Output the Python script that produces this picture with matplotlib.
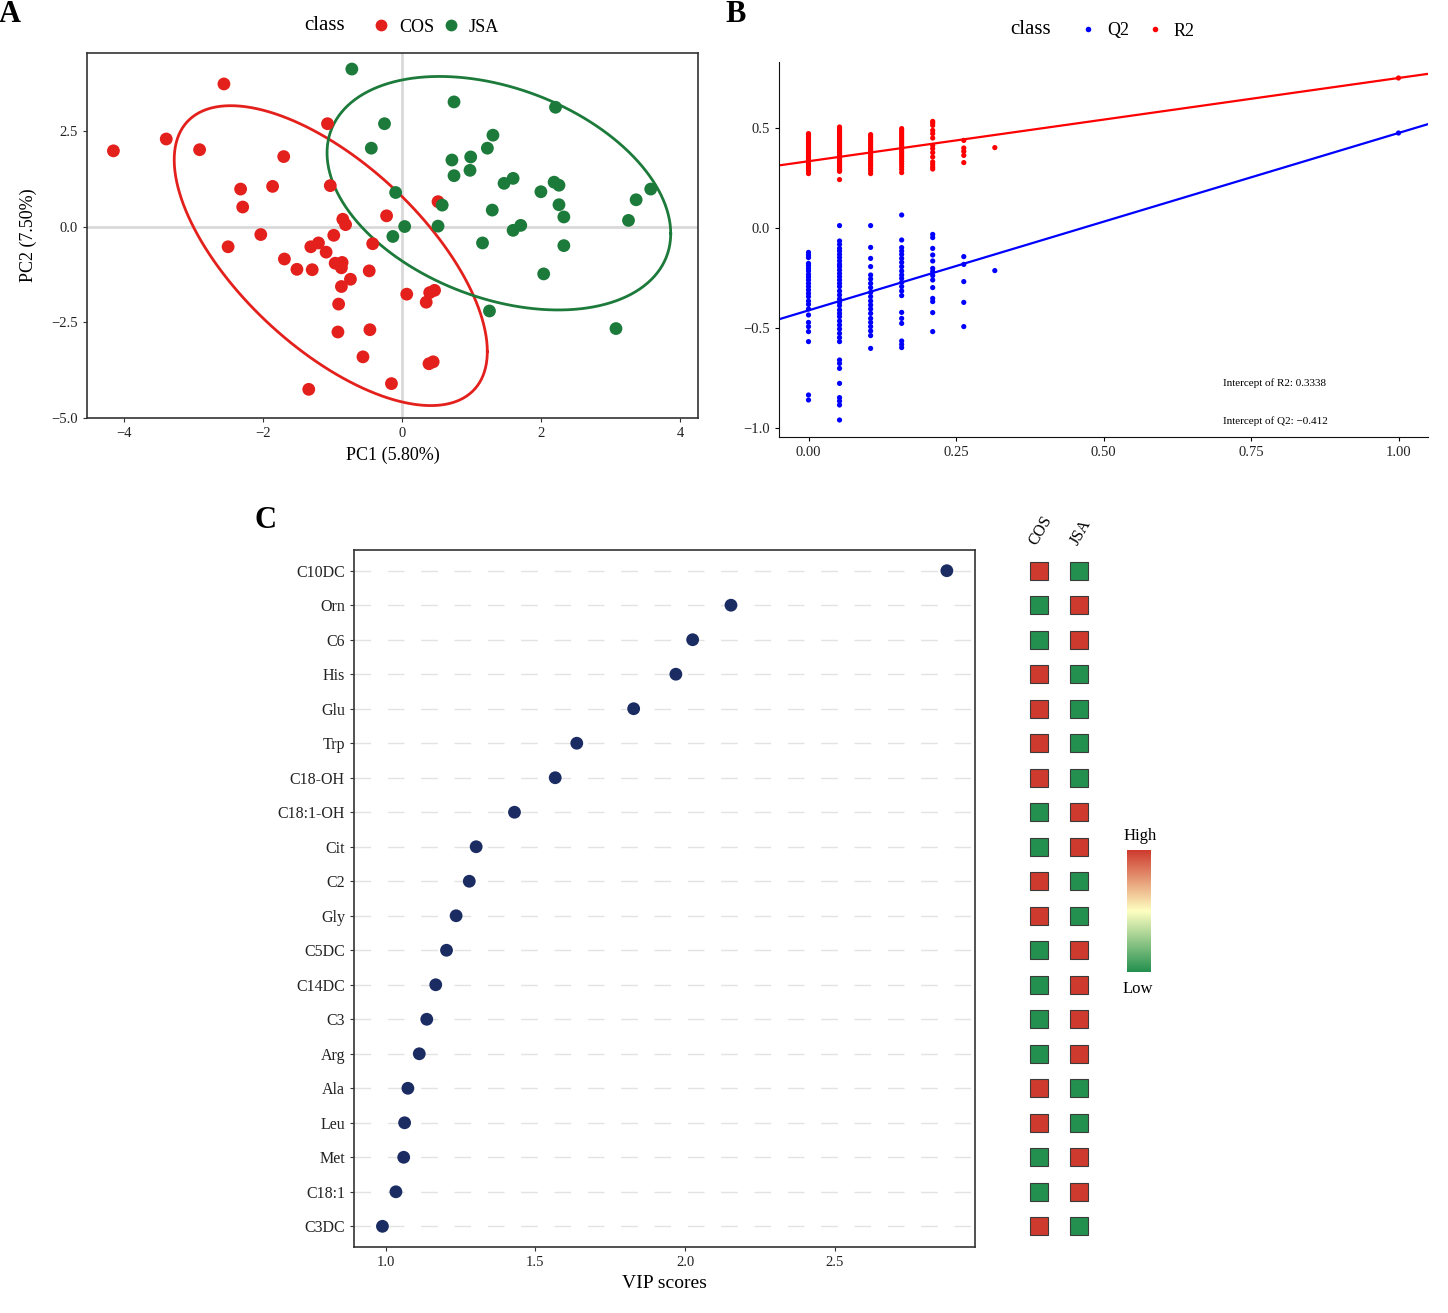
import numpy as np
import matplotlib
matplotlib.use("Agg")
import matplotlib.pyplot as plt
from matplotlib.lines import Line2D
from matplotlib.colors import LinearSegmentedColormap

plt.rcParams['font.family'] = ['Liberation Serif', 'DejaVu Serif']

# ---------------- Panel A data (PCA scores) ----------------
cos_pc1 = [-4.15, -3.39, -2.91, -2.56, -2.32, -2.29, -2.50, -2.03, -1.86, -1.70,
           -1.07, -1.03, -1.69, -1.51, -1.29, -1.31, -1.20, -1.09, -0.98, -0.85,
           -0.81, -0.96, -0.86, -0.87, -0.74, -0.87, -0.91, -0.92, -0.47, -0.42,
           -0.22, -0.46, -0.56, -1.34, -0.15, 0.07, 0.52, 0.35, 0.40, 0.47,
           0.39, 0.45]
cos_pc2 = [1.99, 2.30, 2.02, 3.74, 0.99, 0.52, -0.52, -0.20, 1.06, 1.84,
           2.70, 1.08, -0.84, -1.11, -1.12, -0.52, -0.42, -0.66, -0.22, 0.20,
           0.06, -0.95, -0.93, -1.07, -1.37, -1.56, -2.02, -2.75, -1.15, -0.44,
           0.29, -2.69, -3.40, -4.25, -4.10, -1.76, 0.66, -1.97, -1.72, -1.66,
           -3.58, -3.53]
jsa_pc1 = [-0.72, 0.75, 2.21, -0.25, -0.44, 1.31, 1.23, 0.72, 0.99, 0.75,
           0.98, 1.47, 1.60, 2.00, 2.19, 2.26, 3.58, 3.37, 2.26, 2.33,
           3.26, 0.58, 1.30, -0.09, 0.04, -0.13, 0.52, 1.60, 1.71, 1.16,
           2.33, 2.04, 1.26, 3.08]
jsa_pc2 = [4.13, 3.27, 3.13, 2.70, 2.06, 2.40, 2.06, 1.75, 1.83, 1.34,
           1.48, 1.14, 1.27, 0.92, 1.17, 1.09, 0.99, 0.71, 0.58, 0.26,
           0.17, 0.57, 0.44, 0.90, 0.01, -0.25, 0.02, -0.09, 0.04, -0.42,
           -0.49, -1.23, -2.20, -2.66]
# F quantiles qf(0.95, 2, n-1) used by stat_ellipse
f_cos = 3.226
f_jsa = 3.285

# ---------------- Panel B data (permutation test) ----------------
perm_sim = [0.0, 0.0526, 0.1053, 0.1579, 0.2105, 0.2632, 0.3158]
r2_perm = [
    [0.472, 0.466, 0.458, 0.450, 0.441, 0.435, 0.426, 0.418, 0.411, 0.402, 0.395, 0.386, 0.378,
     0.371, 0.362, 0.355, 0.347, 0.338, 0.331, 0.322, 0.314, 0.305, 0.296, 0.285, 0.272],
    [0.505, 0.498, 0.490, 0.483, 0.477, 0.470, 0.463, 0.457, 0.451, 0.444, 0.438, 0.431, 0.425,
     0.419, 0.412, 0.406, 0.400, 0.394, 0.388, 0.381, 0.375, 0.369, 0.362, 0.356, 0.350, 0.344,
     0.338, 0.331, 0.325, 0.319, 0.313, 0.307, 0.301, 0.296, 0.291, 0.287, 0.283, 0.242],
    [0.467, 0.458, 0.448, 0.438, 0.428, 0.418, 0.408, 0.398, 0.389, 0.379, 0.369, 0.359, 0.349,
     0.339, 0.329, 0.319, 0.309, 0.297, 0.285, 0.272],
    [0.497, 0.487, 0.477, 0.466, 0.456, 0.446, 0.436, 0.425, 0.415, 0.405, 0.394, 0.384, 0.374,
     0.363, 0.353, 0.342, 0.332, 0.320, 0.307, 0.293, 0.277],
    [0.533, 0.525, 0.513, 0.488, 0.472, 0.450, 0.413, 0.397, 0.377, 0.355, 0.330, 0.318, 0.305, 0.295],
    [0.438, 0.400, 0.383, 0.363, 0.327],
    [0.402],
]
q2_perm = [
    [-0.122, -0.135, -0.148, -0.177, -0.188, -0.202, -0.215, -0.232, -0.245, -0.260, -0.277,
     -0.293, -0.310, -0.327, -0.343, -0.365, -0.382, -0.405, -0.435, -0.472, -0.493, -0.518,
     -0.568, -0.835, -0.860],
    [0.012, -0.065, -0.082, -0.102, -0.115, -0.132, -0.148, -0.165, -0.182, -0.193, -0.210,
     -0.227, -0.243, -0.260, -0.277, -0.293, -0.315, -0.335, -0.355, -0.372, -0.388, -0.410,
     -0.427, -0.443, -0.465, -0.485, -0.505, -0.527, -0.548, -0.568, -0.660, -0.677, -0.702,
     -0.777, -0.848, -0.865, -0.885, -0.960],
    [0.012, -0.097, -0.152, -0.193, -0.235, -0.255, -0.277, -0.298, -0.322, -0.343, -0.365,
     -0.385, -0.405, -0.427, -0.452, -0.472, -0.493, -0.515, -0.538, -0.602],
    [0.065, -0.060, -0.098, -0.115, -0.132, -0.152, -0.172, -0.193, -0.215, -0.235, -0.252,
     -0.272, -0.293, -0.315, -0.338, -0.422, -0.452, -0.477, -0.565, -0.582, -0.598],
    [-0.032, -0.048, -0.102, -0.135, -0.165, -0.202, -0.218, -0.238, -0.260, -0.298, -0.352,
     -0.368, -0.423, -0.518],
    [-0.143, -0.182, -0.268, -0.372, -0.493],
    [-0.213],
]
orig_sim = 1.0
r2_orig = 0.750
q2_orig = 0.475
r2_intercept = 0.3338
q2_intercept = -0.412

# ---------------- Panel C data (VIP) ----------------
vip_names = ["C10DC", "Orn", "C6", "His", "Glu", "Trp", "C18-OH", "C18:1-OH", "Cit", "C2",
             "Gly", "C5DC", "C14DC", "C3", "Arg", "Ala", "Leu", "Met", "C18:1", "C3DC"]
vip_scores = [2.874, 2.153, 2.025, 1.969, 1.828, 1.638, 1.566, 1.430, 1.302, 1.279,
              1.235, 1.203, 1.167, 1.137, 1.112, 1.074, 1.063, 1.060, 1.034, 0.989]
heat_groups = ["COS", "JSA"]
cos_level = [1, -1, -1, 1, 1, 1, 1, -1, -1, 1, 1, -1, -1, -1, -1, 1, 1, -1, -1, 1]
jsa_level = [-1, 1, 1, -1, -1, -1, -1, 1, 1, -1, -1, 1, 1, 1, 1, -1, -1, 1, 1, -1]

# ---------------- styling ----------------
RED = '#E3201C'
GREEN = '#1C7A3A'
NAVY = '#1B2C63'
W, H = 1448, 1313
fig = plt.figure(figsize=(W / 100, H / 100), dpi=100)


def rect(l, t, r, b):
    return [l / W, 1 - b / H, (r - l) / W, (b - t) / H]


def cov_trob(pts, nu=5, maxit=25, tol=0.01):
    """Multivariate t estimate of location/scatter (as MASS::cov.trob)."""
    n, p = pts.shape
    loc = pts.mean(axis=0)
    w = np.ones(n)
    for _ in range(maxit):
        w0 = w
        X = pts - loc
        _, d, vt = np.linalg.svd(np.sqrt(w / w.sum())[:, None] * X, full_matrices=False)
        wX = X @ vt.T @ np.diag(1 / d)
        Q = (wX ** 2).sum(axis=1)
        w = (nu + p) / (nu + Q)
        loc = (w[:, None] * pts).sum(axis=0) / w.sum()
        if np.all(np.abs(w - w0) < tol):
            break
    X = pts - loc
    cov = (np.sqrt(w)[:, None] * X).T @ (np.sqrt(w)[:, None] * X) / n
    return loc, cov


def ellipse(x, y, fval):
    pts = np.column_stack([x, y])
    mu, cov = cov_trob(pts)
    L = np.linalg.cholesky(cov)
    t = np.linspace(0, 2 * np.pi, 300)
    circ = np.vstack([np.cos(t), np.sin(t)])
    rad = np.sqrt(2 * fval)
    e = mu[:, None] + rad * (L @ circ)
    return e[0], e[1]


# ================= Panel A =================
axA = fig.add_axes(rect(87, 53, 698, 418))
axA.axhline(0, color='#D9D9D9', lw=2, zorder=0)
axA.axvline(0, color='#D9D9D9', lw=2, zorder=0)
axA.scatter(cos_pc1, cos_pc2, s=85, color=RED, edgecolors='none', zorder=3)
axA.scatter(jsa_pc1, jsa_pc2, s=85, color=GREEN, edgecolors='none', zorder=3)
ex, ey = ellipse(cos_pc1, cos_pc2, f_cos)
axA.plot(ex, ey, color=RED, lw=2, zorder=2)
ex, ey = ellipse(jsa_pc1, jsa_pc2, f_jsa)
axA.plot(ex, ey, color=GREEN, lw=2, zorder=2)
axA.set_xlim(-4.53, 4.26)
axA.set_ylim(-5.0, 4.55)
axA.set_xticks([-4, -2, 0, 2, 4])
axA.set_yticks([-5.0, -2.5, 0.0, 2.5])
axA.set_yticklabels(['\u22125.0', '\u22122.5', '0.0', '2.5'])
axA.set_xticklabels(['\u22124', '\u22122', '0', '2', '4'])
for s in axA.spines.values():
    s.set_color('#333333')
    s.set_linewidth(1.2)
axA.tick_params(labelsize=10.5, length=3, color='#333333', labelcolor='#222222')
axA.set_xlabel('PC1 (5.80%)', fontsize=13, labelpad=5)
axA.set_ylabel('PC2 (7.50%)', fontsize=13, labelpad=10)

fig.text(325 / W, 1 - 26 / H, 'class', fontsize=15, ha='center', va='center')
hA = [Line2D([], [], ls='none', marker='o', ms=8.5, color=RED, mec='none'),
      Line2D([], [], ls='none', marker='o', ms=8.5, color=GREEN, mec='none')]
fig.legend(hA, ['COS', 'JSA'], loc='center left', bbox_to_anchor=(367 / W, 1 - 27 / H),
           ncol=2, frameon=False, fontsize=13, handletextpad=0.2, columnspacing=0.1,
           handlelength=1.6, borderpad=0, borderaxespad=0)

# ================= Panel B =================
axB = fig.add_axes(rect(779, 62, 1428, 437))
for xv, vals in zip(perm_sim, r2_perm):
    axB.scatter([xv] * len(vals), vals, s=14, color='#FF0000', edgecolors='none', zorder=3)
for xv, vals in zip(perm_sim, q2_perm):
    axB.scatter([xv] * len(vals), vals, s=14, color='#0000FF', edgecolors='none', zorder=3)
axB.scatter([orig_sim], [r2_orig], s=14, color='#FF0000', edgecolors='none', zorder=3)
axB.scatter([orig_sim], [q2_orig], s=14, color='#0000FF', edgecolors='none', zorder=3)
xx = np.array([-0.05, 1.05])
axB.plot(xx, r2_intercept + (r2_orig - r2_intercept) * xx, color='#FF0000', lw=1.6, zorder=2)
axB.plot(xx, q2_intercept + (q2_orig - q2_intercept) * xx, color='#0000FF', lw=1.6, zorder=2)
axB.set_xlim(-0.05, 1.05)
axB.set_ylim(-1.045, 0.83)
axB.set_xticks([0, 0.25, 0.5, 0.75, 1.0])
axB.set_xticklabels(['0.00', '0.25', '0.50', '0.75', '1.00'])
axB.set_yticks([-1.0, -0.5, 0.0, 0.5])
axB.set_yticklabels(['\u22121.0', '\u22120.5', '0.0', '0.5'])
axB.spines['top'].set_visible(False)
axB.spines['right'].set_visible(False)
axB.spines['left'].set_color('#111111')
axB.spines['bottom'].set_color('#111111')
axB.tick_params(labelsize=10.5, length=3, labelcolor='#222222')
axB.text(0.702, -0.775, 'Intercept of R2: 0.3338', fontsize=8, va='center', ha='left')
axB.text(0.702, -0.965, 'Intercept of Q2: \u22120.412', fontsize=8, va='center', ha='left')

fig.text(1031 / W, 1 - 29 / H, 'class', fontsize=15, ha='center', va='center')
hB = [Line2D([], [], ls='none', marker='o', ms=4, color='#0000FF', mec='none'),
      Line2D([], [], ls='none', marker='o', ms=4, color='#FF0000', mec='none')]
fig.legend(hB, ['Q2', 'R2'], loc='center left', bbox_to_anchor=(1074 / W, 1 - 31 / H),
           ncol=2, frameon=False, fontsize=13, handletextpad=0.25, columnspacing=0.6,
           handlelength=1.6, borderpad=0, borderaxespad=0)

# ================= Panel C =================
axC = fig.add_axes(rect(354, 550, 975, 1247))
n = len(vip_names)
ypos = np.arange(n)[::-1]
for yv in ypos:
    axC.axhline(yv, color='#E3E3E3', lw=1, ls=(0, (12, 12)), zorder=0)
axC.scatter(vip_scores, ypos, s=85, color=NAVY, edgecolors='none', zorder=3)
axC.set_ylim(-0.6, n - 0.4)
axC.set_xlim(0.894, 2.968)
axC.set_yticks(ypos)
axC.set_yticklabels(vip_names)
axC.set_xticks([1.0, 1.5, 2.0, 2.5])
axC.set_xticklabels(['1.0', '1.5', '2.0', '2.5'])
for s in axC.spines.values():
    s.set_color('#333333')
    s.set_linewidth(1.2)
axC.tick_params(axis='y', labelsize=11.5, length=3, color='#333333', labelcolor='#222222')
axC.tick_params(axis='x', labelsize=10.5, length=3, color='#333333', labelcolor='#222222')
axC.set_xlabel('VIP scores', fontsize=14, labelpad=4)

# heatmap tiles
cmap = LinearSegmentedColormap.from_list('gy_r', ['#23904F', '#FFFFC2', '#CE3A2E'])
axH = fig.add_axes([1019 / W, 1 - 1247 / H, 80 / W, 697 / H])
for ci, levels in enumerate([cos_level, jsa_level]):
    cols = [cmap((v + 1) / 2) for v in levels]
    axH.bar([ci] * n, [0.52] * n, width=0.45, bottom=ypos - 0.26, color=cols,
            edgecolor='#3A3A3A', linewidth=0.8)
axH.set_xlim(-0.5, 1.5)
axH.set_ylim(-0.6, n - 0.4)
axH.axis('off')
for ci, g in enumerate(heat_groups):
    axH.text(ci + 0.05, n - 0.35, g, rotation=60, ha='center', va='bottom', fontsize=11.5,
             transform=axH.transData)

# colorbar
axCB = fig.add_axes(rect(1127, 850, 1151, 972))
grad = np.linspace(-1, 1, 256)[:, None]
axCB.imshow(grad, aspect='auto', cmap=cmap, origin='lower', extent=[0, 1, -1, 1])
axCB.set_xticks([])
axCB.set_yticks([])
for s in axCB.spines.values():
    s.set_visible(False)
fig.text(1140 / W, 1 - 836 / H, 'High', fontsize=12, ha='center', va='center')
fig.text(1138 / W, 1 - 989 / H, 'Low', fontsize=12, ha='center', va='center')

# panel letters
fig.text(10 / W, 1 - 15 / H, 'A', fontsize=22, fontweight='bold', ha='center', va='center')
fig.text(736 / W, 1 - 15 / H, 'B', fontsize=22, fontweight='bold', ha='center', va='center')
fig.text(265 / W, 1 - 520 / H, 'C', fontsize=22, fontweight='bold', ha='center', va='center')

fig.savefig('out.png', dpi=100)
